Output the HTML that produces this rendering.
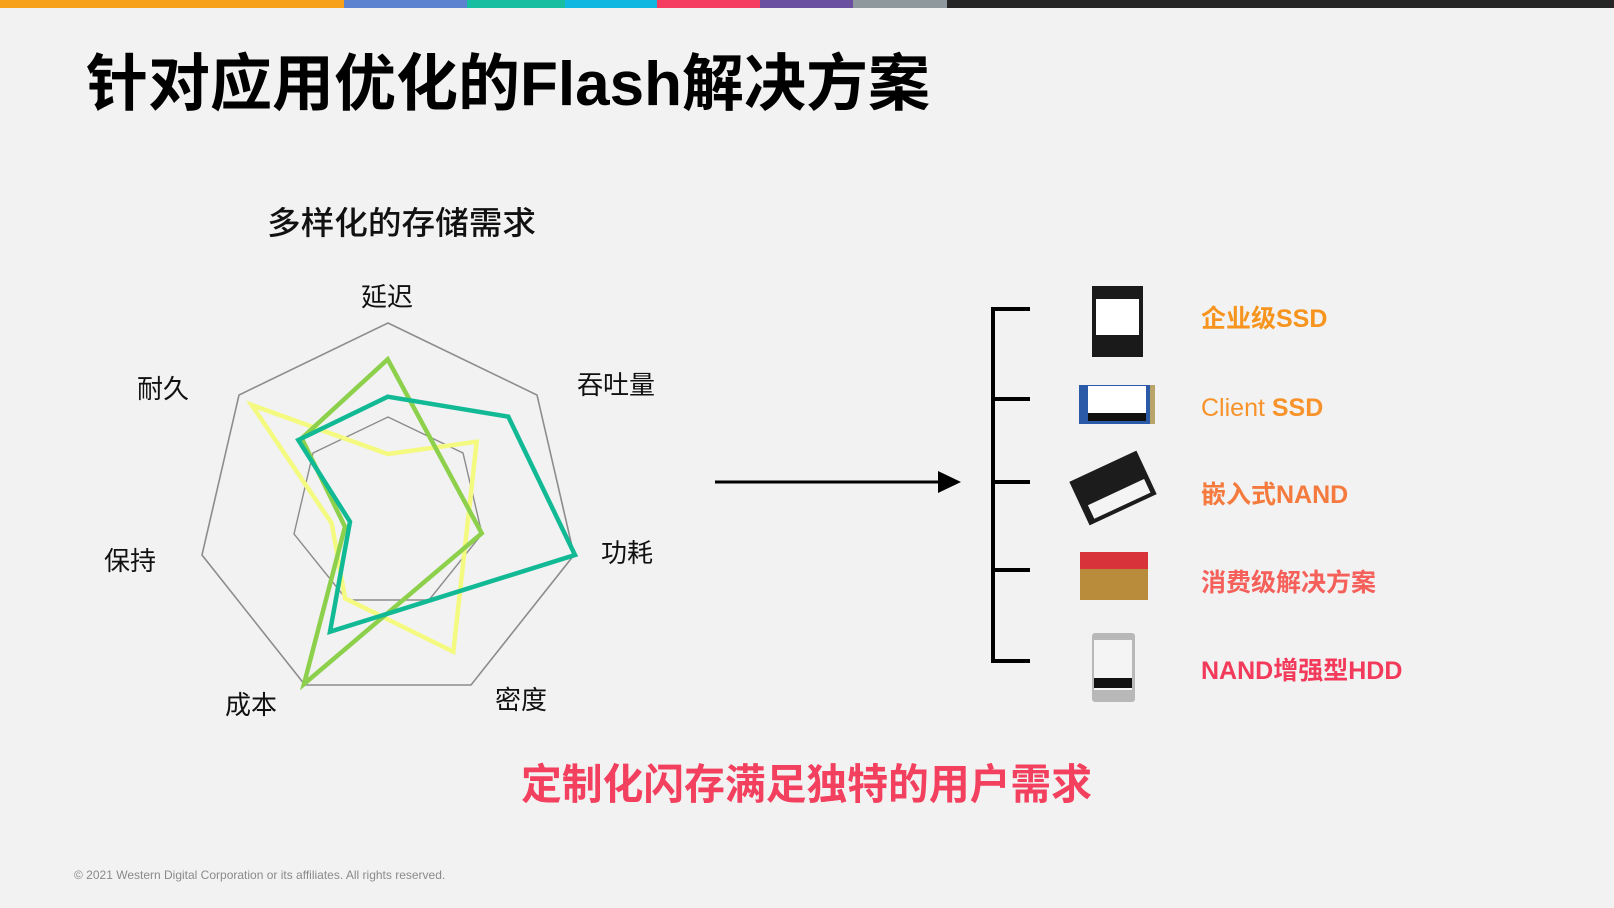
<!DOCTYPE html>
<html><head><meta charset="utf-8"><style>
html,body{margin:0;padding:0;background:#f2f2f2;}
svg{display:block;}
text{font-family:"Liberation Sans","Noto Sans CJK SC",sans-serif;}
</style></head><body>
<svg width="1614" height="908" viewBox="0 0 1614 908" xmlns="http://www.w3.org/2000/svg">
<rect width="1614" height="908" fill="#f2f2f2"/>
<!-- top bar -->
<rect x="0" y="0" width="344" height="8" fill="#f7a01a"/>
<rect x="344" y="0" width="123" height="8" fill="#5b83d0"/>
<rect x="467" y="0" width="98" height="8" fill="#18bea0"/>
<rect x="565" y="0" width="92" height="8" fill="#10b7e0"/>
<rect x="657" y="0" width="103" height="8" fill="#f53d62"/>
<rect x="760" y="0" width="93" height="8" fill="#6a4ea0"/>
<rect x="853" y="0" width="94" height="8" fill="#8f989c"/>
<rect x="947" y="0" width="667" height="8" fill="#262626"/>

<text x="86" y="105" font-size="62" font-weight="bold" fill="#000" textLength="844" lengthAdjust="spacingAndGlyphs">针对应用优化的Flash解决方案</text>
<text x="267" y="234" font-size="32" fill="#111" font-weight="500" textLength="269" lengthAdjust="spacingAndGlyphs">多样化的存储需求</text>

<!-- radar -->
<polygon points="388,323 537,395 574,555 471,685 305,685 202,555 239,395" fill="none" stroke="#8c8c8c" stroke-width="1.6"/>
<polygon points="388,417 463,453 482,534 429,600 347,600 294,534 313,453" fill="none" stroke="#8c8c8c" stroke-width="1.4"/>
<polygon points="387.7,454 476.7,441.7 453.3,651.7 345,598.3 331.7,523.3 251.7,405" fill="none" stroke="#f4fa80" stroke-width="4.5" stroke-linejoin="miter"/>
<polygon points="387.7,359.3 481.7,533.3 304,684 345,526.7 301.7,438.3" fill="none" stroke="#8dd04c" stroke-width="4.5"/>
<polygon points="387.7,396.7 508.3,416.7 575,555 330,631.7 350,521.7 298.3,440" fill="none" stroke="#12b995" stroke-width="4.5"/>

<g font-size="26" fill="#111" text-anchor="middle">
<text x="387" y="306">延迟</text>
<text x="616" y="394">吞吐量</text>
<text x="627" y="562">功耗</text>
<text x="521" y="709">密度</text>
<text x="251" y="714">成本</text>
<text x="130" y="570">保持</text>
<text x="163" y="398">耐久</text>
</g>

<!-- arrow -->
<line x1="715" y1="482" x2="942" y2="482" stroke="#000" stroke-width="3"/>
<polygon points="938,471 961,482 938,493" fill="#000"/>

<!-- bracket -->
<g stroke="#000" stroke-width="4" fill="none">
<line x1="993" y1="307" x2="993" y2="663"/>
<line x1="991" y1="309" x2="1030" y2="309"/>
<line x1="991" y1="399" x2="1030" y2="399"/>
<line x1="991" y1="482" x2="1030" y2="482"/>
<line x1="991" y1="570" x2="1030" y2="570"/>
<line x1="991" y1="661" x2="1030" y2="661"/>
</g>

<!-- products -->
<rect x="1092" y="286" width="51" height="71" fill="#1a1a1a"/>
<rect x="1096" y="299" width="43" height="36" fill="#fff"/>
<rect x="1079" y="385" width="76" height="39" fill="#2a5aa8"/>
<rect x="1088" y="386" width="58" height="27" fill="#fff"/>
<rect x="1088" y="413" width="58" height="8" fill="#111"/>
<rect x="1150" y="385" width="5" height="39" fill="#b9a46a"/>
<g transform="translate(1113,488) rotate(-25)">
<rect x="-37" y="-24" width="74" height="48" fill="#1c1c1c"/>
<rect x="-30" y="5" width="62" height="15" fill="#f4f4f4"/>
</g>
<rect x="1080" y="552" width="68" height="17" fill="#d8323a"/>
<rect x="1080" y="569" width="68" height="31" fill="#b98c3b"/>
<rect x="1092" y="633" width="43" height="69" rx="3" fill="#b8b8b8"/>
<rect x="1094" y="640" width="38" height="50" fill="#f4f4f4"/>
<rect x="1094" y="678" width="38" height="10" fill="#111"/>

<g font-size="25" font-weight="bold">
<text x="1201" y="327" fill="#f7941d">企业级SSD</text>
<text x="1201" y="416" fill="#f7932a"><tspan font-weight="normal">Client </tspan>SSD</text>
<text x="1201" y="503" fill="#f47a3d">嵌入式NAND</text>
<text x="1201" y="591" fill="#f5605a">消费级解决方案</text>
<text x="1201" y="679" fill="#f33a5a">NAND增强型HDD</text>
</g>

<text x="521" y="799" font-size="42" font-weight="bold" fill="#f2405e" textLength="571" lengthAdjust="spacingAndGlyphs">定制化闪存满足独特的用户需求</text>

<text x="74" y="879" font-size="12" fill="#8a8a8a">© 2021 Western Digital Corporation or its affiliates. All rights reserved.</text>
</svg>
</body></html>
